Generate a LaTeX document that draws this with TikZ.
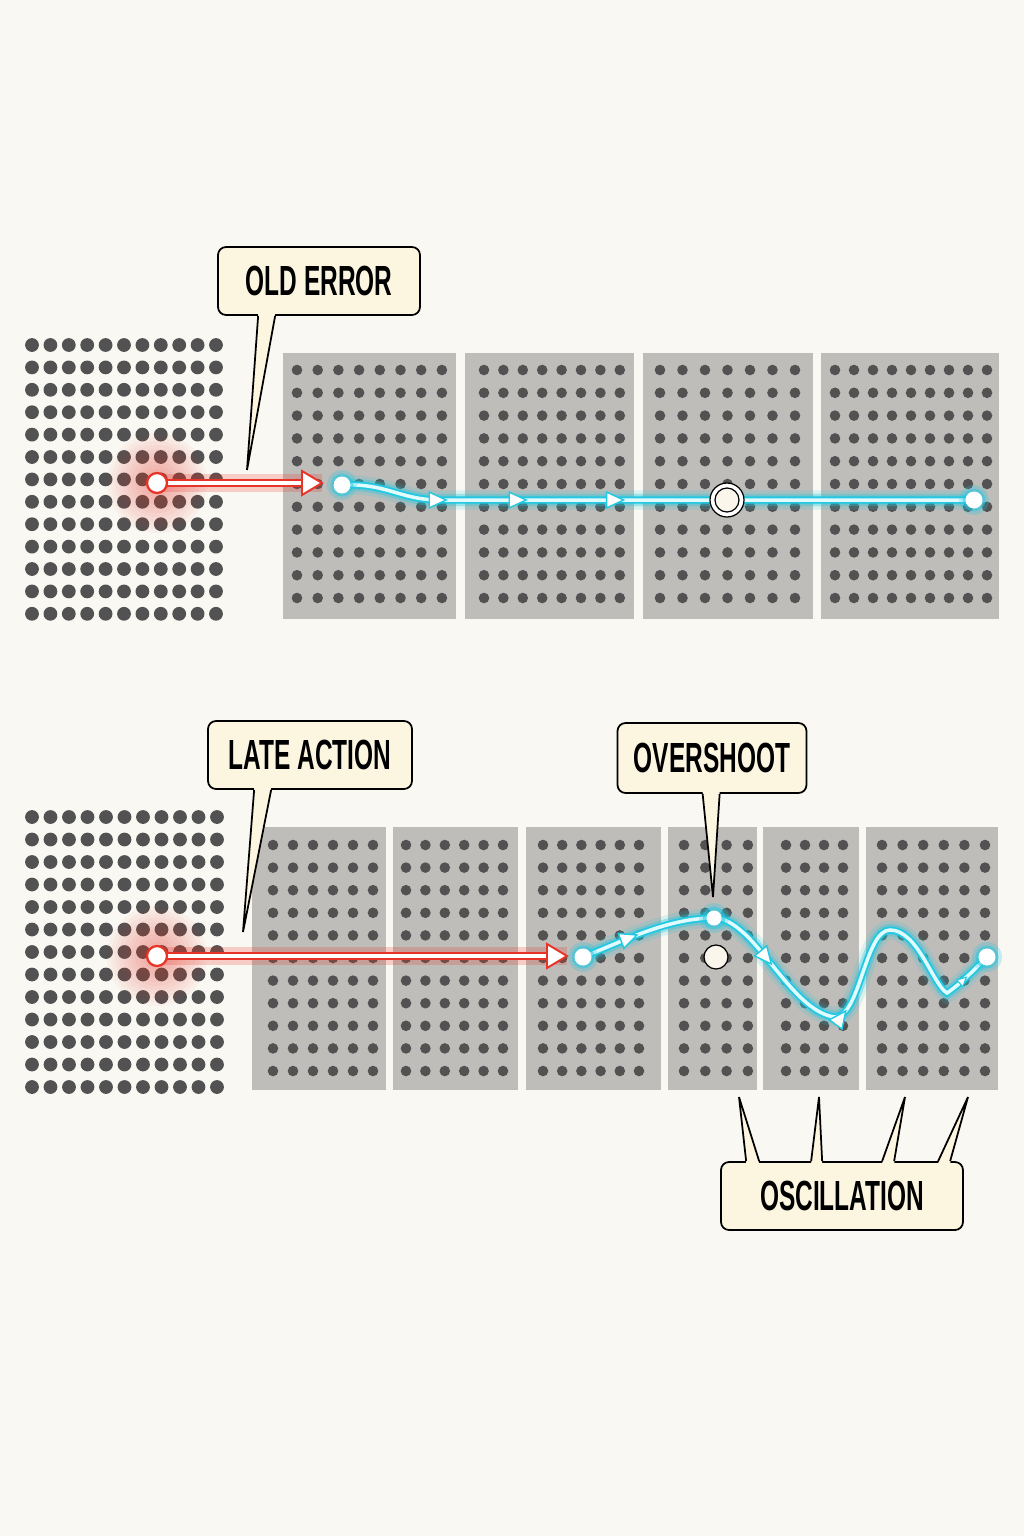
\documentclass[tikz,border=0pt]{standalone}
\usepackage{fontspec}
\newfontfamily\callfont[FakeStretch=0.58]{Liberation Sans}
\usetikzlibrary{arrows.meta,calc,decorations.markings}

\definecolor{bgcream}{RGB}{250,248,242}
\definecolor{panelgray}{RGB}{191,189,186}
\definecolor{dotgray}{RGB}{82,82,82}
\definecolor{callfill}{RGB}{252,245,224}
\definecolor{glowcyan}{RGB}{35,200,225}
\definecolor{corecyan}{RGB}{225,252,255}
\definecolor{errred}{RGB}{232,52,40}
\definecolor{ringfill}{RGB}{250,246,236}

\tikzset{
  errdot/.style={circle, draw=errred, line width=1.3pt, fill=white, minimum size=0.4cm, inner sep=0pt},
  flowdot/.style={circle, fill=white, minimum size=0.34cm, inner sep=0pt},
  ring/.style={circle, draw=black, line width=0.7pt, fill=white, minimum size=0.68cm, inner sep=0pt},
  hollow/.style={circle, draw=black, line width=0.7pt, fill=ringfill, minimum size=0.48cm, inner sep=0pt},
  glowwide/.style={draw=glowcyan, line width=11pt, draw opacity=0.15, line cap=round},
  glowmid/.style={draw=glowcyan, line width=7pt, draw opacity=0.35, line cap=round},
  glowline/.style={draw=glowcyan, line width=4.2pt, line cap=round},
  coreline/.style={draw=corecyan, line width=2pt, line cap=round},
  errglow/.style={draw=errred, line width=10pt, draw opacity=0.22},
  errline/.style={draw=errred, line width=1.1pt, double=white, double distance=2.4pt},
  errhead/.style={draw=errred, line width=1.1pt, fill=white, line join=miter},
  callout/.style={draw=black, line width=1pt, fill=callfill, rounded corners=0.16cm,
    minimum height=1.36cm, inner sep=0pt, font=\callfont\bfseries\fontsize{24}{26}\selectfont},
  callline/.style={draw=black, line width=1pt, line join=miter}
}

% grid of dots: first x, step x, columns, first y, step y, rows, radius
\newcommand\dotgrid[7]{%
  \foreach \cc in {1,...,#3}{%
    \foreach \rr in {1,...,#6}{%
      \fill[dotgray] ({#1+(\cc-1)*#2},{#4+(\rr-1)*#5}) circle (#7);
    }%
  }%
}
% soft halo round a point
\newcommand\halo[3]{%
  \foreach \g in {#3,46,...,8}{\fill[#2, fill opacity=0.04] (#1) circle (\g);}%
}
% callout tail pointing down / up
\newcommand\taildown[4]{%
  \fill[callfill] ($(#1.south west)+(#2,-2)$) -- (#4) -- ($(#1.south west)+(#3,-2)$) -- cycle;
  \draw[callline] ($(#1.south west)+(#2,0)$) -- (#4) -- ($(#1.south west)+(#3,0)$);
}
\newcommand\tailup[4]{%
  \fill[callfill] ($(#1.north west)+(#2,2)$) -- (#4) -- ($(#1.north west)+(#3,2)$) -- cycle;
  \draw[callline] ($(#1.north west)+(#2,0)$) -- (#4) -- ($(#1.north west)+(#3,0)$);
}
\def\flowtip{\arrow{Triangle[length=11pt, width=10pt, fill=white, color=glowcyan, line width=0.8pt]}}

\begin{document}
\begin{tikzpicture}[x=0.02cm, y=-0.02cm]
  \useasboundingbox (0,0) rectangle (1024,1536);
  \fill[bgcream] (0,0) rectangle (1024,1536);

  % top row
  \dotgrid{32}{18.4}{11}{345}{22.4}{13}{6.9}
  \fill[panelgray] (283,353) rectangle (456,619);
  \fill[panelgray] (465,353) rectangle (634,619);
  \fill[panelgray] (643,353) rectangle (813,619);
  \fill[panelgray] (821,353) rectangle (999,619);
  \dotgrid{297}{20.7}{8}{370}{22.8}{11}{5.3}
  \dotgrid{484}{19.4}{8}{370}{22.8}{11}{5.3}
  \dotgrid{660}{22.5}{7}{370}{22.8}{11}{5.3}
  \dotgrid{835}{19}{9}{370}{22.8}{11}{5.3}

  % bottom row
  \dotgrid{32}{18.5}{11}{817}{22.5}{13}{6.9}
  \fill[panelgray] (252,827) rectangle (386,1090);
  \fill[panelgray] (393,827) rectangle (518,1090);
  \fill[panelgray] (526,827) rectangle (661,1090);
  \fill[panelgray] (668,827) rectangle (757,1090);
  \fill[panelgray] (763,827) rectangle (859,1090);
  \fill[panelgray] (866,827) rectangle (998,1090);
  \dotgrid{273}{20}{6}{845}{22.6}{11}{5.3}
  \dotgrid{406}{19.4}{6}{845}{22.6}{11}{5.3}
  \dotgrid{543}{19.2}{6}{845}{22.6}{11}{5.3}
  \dotgrid{684}{21.3}{4}{845}{22.6}{11}{5.3}
  \dotgrid{786}{19}{4}{845}{22.6}{11}{5.3}
  \dotgrid{882}{20.6}{6}{845}{22.6}{11}{5.3}

  % points of the two runs
  \coordinate (err1) at (157,483);
  \coordinate (err1 tip) at (322,483);
  \coordinate (flow1 start) at (342,485);
  \coordinate (flow1 bend) at (440,500);
  \coordinate (flow1 end) at (974,500);
  \coordinate (err2) at (157,956);
  \coordinate (err2 tip) at (567,956);
  \coordinate (flow2 start) at (583,957);
  \coordinate (flow2 peak) at (714,918);
  \coordinate (flow2 low) at (835,1017);
  \coordinate (flow2 crest) at (890,930);
  \coordinate (flow2 dip) at (947,993);
  \coordinate (flow2 end) at (987,957);

  \def\flowone{(flow1 start) .. controls +(45,-2) and +(-40,0) .. (flow1 bend) -- (flow1 end)}
  \def\flowtwo{(flow2 start) .. controls +(45,-18) and +(-45,0) .. (flow2 peak)
    .. controls +(40,0) and +(-45,-5) .. (flow2 low)
    .. controls +(25,0) and +(-25,0) .. (flow2 crest)
    .. controls +(28,0) and +(-14,-8) .. (flow2 dip)
    .. controls +(12,-8) and +(-14,14) .. (flow2 end)}

  % red glow
  \halo{err1}{errred}{50}
  \halo{err2}{errred}{50}
  \draw[errglow] (err1) -- (err1 tip);
  \draw[errglow] (err2) -- (err2 tip);
  \draw[errline] (err1) -- ($(err1 tip)+(-16,0)$);
  \draw[errline] (err2) -- ($(err2 tip)+(-16,0)$);
  \filldraw[errhead] (err1 tip) -- ++(-20,-12) -- ++(0,24) -- cycle;
  \filldraw[errhead] (err2 tip) -- ++(-20,-12) -- ++(0,24) -- cycle;

  % cyan runs
  \draw[glowwide] \flowone;
  \draw[glowmid] \flowone;
  \draw[glowline] \flowone;
  \draw[coreline, postaction={decorate}, decoration={markings,
      mark=at position 2.15cm with {\flowtip},
      mark=at position 3.75cm with {\flowtip},
      mark=at position 5.7cm with {\flowtip}}] \flowone;

  \draw[glowwide] \flowtwo;
  \draw[glowmid] \flowtwo;
  \draw[glowline] \flowtwo;
  \draw[coreline, postaction={decorate}, decoration={markings,
      mark=at position 1.2cm with {\flowtip},
      mark=at position 4.3cm with {\flowtip},
      mark=at position 6.25cm with {\flowtip},
      mark=at position 10.4cm with {\arrow{Triangle[length=6pt, width=6pt, fill=white, color=glowcyan, line width=0.6pt]}}}] \flowtwo;

  % markers
  \node[errdot] (err1 dot) at (err1) {};
  \node[errdot] (err2 dot) at (err2) {};
  \foreach \p in {flow1 start, flow1 end, flow2 start, flow2 peak, flow2 end}{
    \fill[glowcyan, fill opacity=0.25] (\p) circle (15);
    \fill[glowcyan, fill opacity=0.5] (\p) circle (11.5);
  }
  \node[flowdot] (flow1 start dot) at (flow1 start) {};
  \node[flowdot] (flow1 end dot) at (flow1 end) {};
  \node[flowdot] (flow2 start dot) at (flow2 start) {};
  \node[flowdot, minimum size=0.3cm] (flow2 peak dot) at (flow2 peak) {};
  \node[flowdot] (flow2 end dot) at (flow2 end) {};
  \node[ring] (target1) at (727,500) {};
  \draw[black, line width=0.7pt, fill=ringfill] (target1.center) circle (12);
  \node[hollow] (target2) at (716,957) {};

  % callouts
  \node[callout, minimum width=4.04cm] (olderror) at (319,281) {OLD ERROR};
  \taildown{olderror}{41}{58}{247,470}
  \node[callout, minimum width=4.08cm] (lateaction) at (310,755) {LATE ACTION};
  \taildown{lateaction}{47}{64}{243,932}
  \node[callout, minimum width=3.78cm, minimum height=1.4cm] (overshoot) at (712,758) {OVERSHOOT};
  \taildown{overshoot}{86}{103}{713,897}
  \node[callout, minimum width=4.84cm] (oscillation) at (842,1196) {OSCILLATION};
  \tailup{oscillation}{26}{39}{739,1097}
  \tailup{oscillation}{91}{102}{819,1097}
  \tailup{oscillation}{162}{174}{905,1097}
  \tailup{oscillation}{218}{230}{968,1097}
\end{tikzpicture}
\end{document}
